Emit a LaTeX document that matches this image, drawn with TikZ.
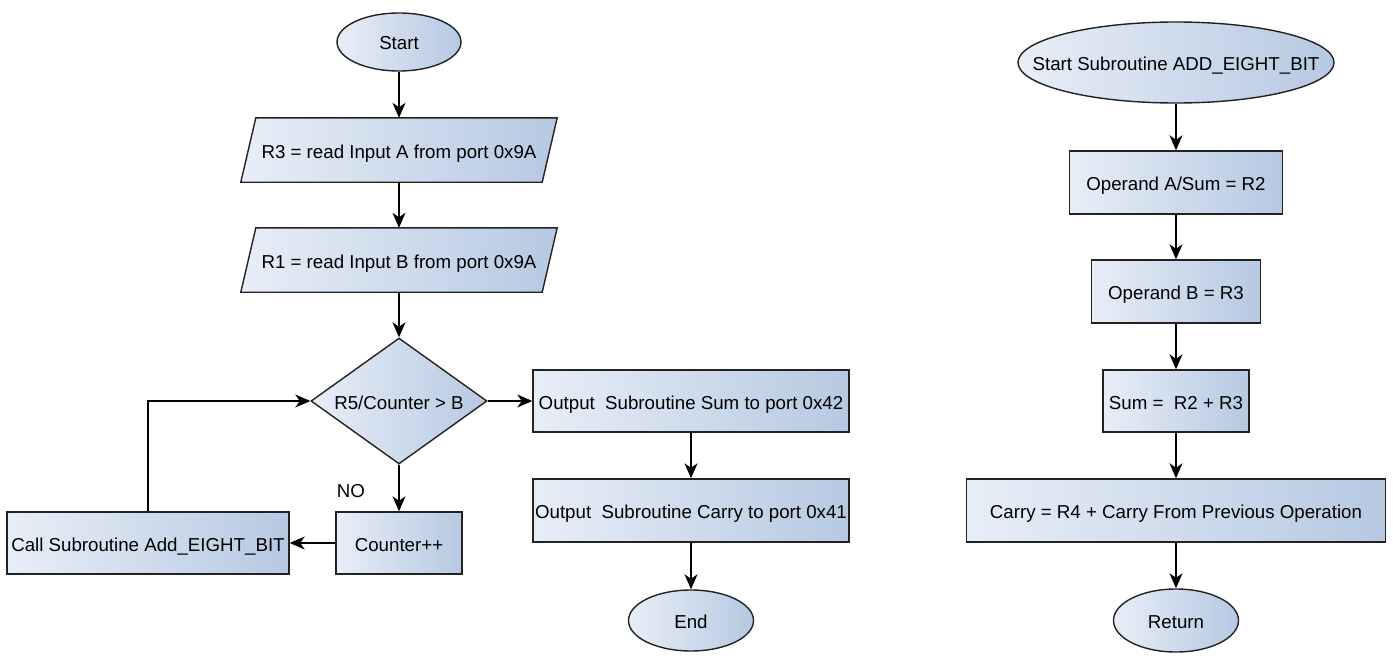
\documentclass[tikz,border=0pt]{standalone}
\usepackage{fontspec}
\setmainfont{Liberation Sans}
\usetikzlibrary{shapes.geometric,arrows.meta,backgrounds}
\definecolor{gL}{HTML}{E8EEF7}
\definecolor{gR}{HTML}{B6C9E2}
\definecolor{bord}{HTML}{222222}
\newcommand{\zb}[1]{\makebox[0pt][c]{#1}}
\tikzset{
  grad/.style={left color=gL, right color=gR, draw=bord, line width=1.4pt},
  base/.style={inner sep=0pt, font=\fontsize{18.7}{21}\selectfont, text=black, text height=16pt, text depth=0pt},
  box/.style={base, grad, rectangle, minimum width=#1},
  oval/.style={base, grad, ellipse},
  para/.style={base, rectangle, minimum width=301pt, minimum height=64pt},
  decision/.style={base, grad, diamond, minimum width=176pt, minimum height=126pt, shape aspect=1.4},
  arr/.style={draw=black, line width=1.4pt, -{Stealth[length=15pt,width=13pt,inset=4.5pt]}},
}
\begin{document}
\begin{tikzpicture}[x=1pt,y=-1pt]
\useasboundingbox (0,0) rectangle (1393,661);
% left column
\node[oval, minimum width=124pt, minimum height=58pt] (start) at (399,42) {\zb{Start}};
\node[para] (p1) at (399,150) {R3 = read Input A from port 0x9A};
\node[para] (p2) at (399,260) {R1 = read Input B from port 0x9A};
\begin{scope}[on background layer]
  \path[grad] ([xshift=-7.5pt]p1.south west) -- ([xshift=7.5pt]p1.north west) -- ([xshift=7.5pt]p1.north east) -- ([xshift=-7.5pt]p1.south east) -- cycle;
  \path[grad] ([xshift=-7.5pt]p2.south west) -- ([xshift=7.5pt]p2.north west) -- ([xshift=7.5pt]p2.north east) -- ([xshift=-7.5pt]p2.south east) -- cycle;
\end{scope}
\node[decision] (dec) at (399,401) {\zb{R5/Counter > B}};
\node[box=126pt, minimum height=62pt] (cnt) at (399,543) {Counter++};
\node[box=282pt, minimum height=62pt] (call) at (148,543) {Call Subroutine Add\_EIGHT\_BIT};
\node[base] (no) at (351,489) {NO};
% middle column
\node[box=316pt, minimum height=62pt] (osum) at (691,401) {Output\ \ Subroutine Sum to port 0x42};
\node[box=316pt, minimum height=63pt] (ocar) at (691,510.5) {Output\ \ Subroutine Carry to port 0x41};
\node[oval, minimum width=125pt, minimum height=61pt] (end) at (691,620.5) {\zb{End}};
% right column
\node[oval, minimum width=316pt, minimum height=81pt] (ss) at (1176,62.5) {\zb{Start Subroutine ADD\_EIGHT\_BIT}};
\node[box=213pt, minimum height=63pt] (opa) at (1176,182.5) {Operand A/Sum = R2};
\node[box=169pt, minimum height=63pt] (opb) at (1176,291.5) {Operand B = R3};
\node[box=146pt, minimum height=62pt] (sum) at (1176,401) {Sum =\ \ R2 + R3};
\node[box=419pt, minimum height=63pt] (car) at (1176,510.5) {Carry = R4 + Carry From Previous Operation};
\node[oval, minimum width=125pt, minimum height=63pt] (ret) at (1176,620.5) {\zb{Return}};
% connectors
\draw[arr] (start) -- (p1);
\draw[arr] (p1) -- (p2);
\draw[arr] (p2) -- (dec);
\draw[arr] (dec) -- (cnt);
\draw[arr] (cnt) -- (call);
\draw[arr] (call.north) |- (dec.west);
\draw[arr] (dec.east) -- (osum.west);
\draw[arr] (osum) -- (ocar);
\draw[arr] (ocar) -- (end);
\draw[arr] (ss) -- (opa);
\draw[arr] (opa) -- (opb);
\draw[arr] (opb) -- (sum);
\draw[arr] (sum) -- (car);
\draw[arr] (car) -- (ret);
\end{tikzpicture}
\end{document}
